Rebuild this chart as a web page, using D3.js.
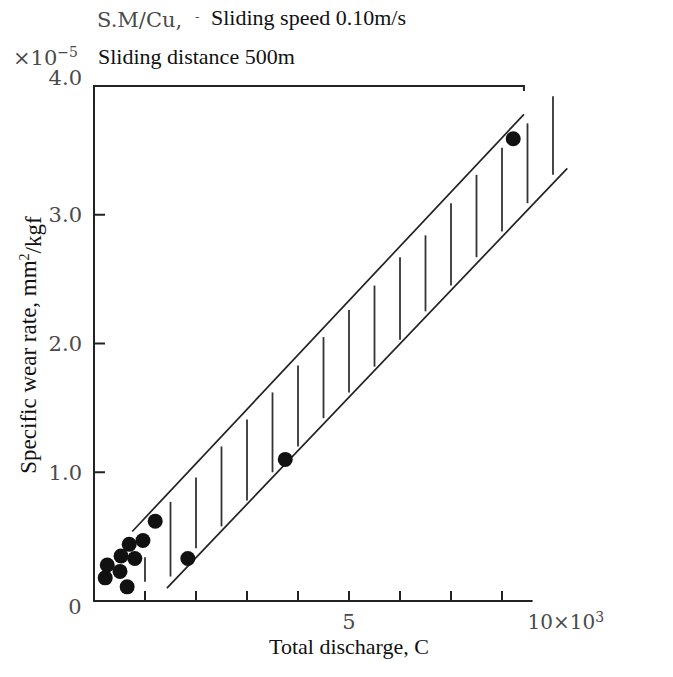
<!DOCTYPE html>
<html>
<head>
<meta charset="utf-8">
<script src="https://cdn.jsdelivr.net/npm/d3@7"></script>
<style>
  body { margin: 0; background: #fff; }
  .lbl { font-family: "Liberation Serif", "Times New Roman", serif; fill: #111; }
  .old { font-family: "DejaVu Serif", serif; fill: #4a4a4a; }
</style>
</head>
<body>
<div id="chart"></div>
<script>
// measured points (x: total discharge 10^3 C, y: wear rate 10^-5 mm2/kgf)
var pointX = [8.22, 3.75, 1.84, 1.20, 0.96, 0.69, 0.53, 0.80, 0.26, 0.22, 0.51, 0.65];
var pointY = [3.59, 1.10, 0.33, 0.62, 0.47, 0.44, 0.35, 0.33, 0.28, 0.18, 0.23, 0.11];

// scatter band edges
var upperX = [0.75, 8.43], upperY = [0.54, 3.78];
var lowerX = [1.43, 9.28], lowerY = [0.10, 3.36];

// vertical hatching inside the band
var hatchX      = [1.0, 1.5, 2.0, 2.5, 3.0, 3.5, 4.0, 4.5, 5.0, 5.5, 6.0, 6.5, 7.0, 7.5, 8.0, 8.5, 9.0];
var hatchTop    = [0.34, 0.77, 0.96, 1.20, 1.41, 1.62, 1.83, 2.05, 2.26, 2.45, 2.67, 2.84, 3.09, 3.31, 3.52, 3.71, 3.92];
var hatchBottom = [0.15, 0.19, 0.41, 0.58, 0.78, 1.00, 1.20, 1.42, 1.62, 1.82, 2.03, 2.25, 2.45, 2.67, 2.87, 3.09, 3.31];

// axes
var xTicks = [1, 2, 3, 4, 5, 6, 7, 8];
var yTicks = [1, 2, 3];
var yTickLabels = [{ v: 4, t: "4.0" }, { v: 3, t: "3.0" }, { v: 2, t: "2.0" }, { v: 1, t: "1.0" }];
var xEnd = 8.6, frameEnd = 8.43;

var W = 673, H = 677;
var x = d3.scaleLinear().domain([0, 10]).range([94, 604]);
var y = d3.scaleLinear().domain([0, 4]).range([601, 86]);

var svg = d3.select("#chart").append("svg")
            .attr("width", W)
            .attr("height", H);

// frame: left, top, bottom
svg.append("path")
   .attr("d", `M${x(frameEnd)},${y(4) + 5} L${x(frameEnd)},${y(4)} L${x(0)},${y(4)} L${x(0)},${y(0)} L${x(xEnd)},${y(0)}`)
   .attr("fill", "none")
   .attr("stroke", "#222")
   .attr("stroke-width", 2);

// inward ticks
svg.selectAll(".xt")
   .data(xTicks)
   .enter().append("line")
   .attr("x1", d => x(d)).attr("x2", d => x(d))
   .attr("y1", y(0)).attr("y2", y(0) - 10)
   .attr("stroke", "#222").attr("stroke-width", 2);

svg.selectAll(".yt")
   .data(yTicks)
   .enter().append("line")
   .attr("x1", x(0)).attr("x2", x(0) + 11)
   .attr("y1", d => y(d)).attr("y2", d => y(d))
   .attr("stroke", "#222").attr("stroke-width", 2);

// tick labels
svg.selectAll(".yl")
   .data(yTickLabels)
   .enter().append("text")
   .attr("class", "old")
   .attr("x", x(0) - 12)
   .attr("y", d => y(d.v) + (d.v === 4 ? -9 : 0))
   .attr("dy", "0.36em")
   .attr("text-anchor", "end")
   .style("font-size", "21px")
   .text(d => d.t);

svg.append("text").attr("class", "old")
   .attr("x", x(0) - 19).attr("y", y(0) + 13).attr("text-anchor", "middle")
   .style("font-size", "21px").text("0");

svg.append("text").attr("class", "old")
   .attr("x", x(5)).attr("y", y(0) + 28).attr("text-anchor", "middle")
   .style("font-size", "21px").text("5");

var tenLbl = svg.append("text").attr("class", "old")
   .attr("x", x(xEnd) - 5).attr("y", y(0) + 28)
   .style("font-size", "20px");
tenLbl.append("tspan").text("10×10");
tenLbl.append("tspan").attr("dy", "-0.5em").style("font-size", "14px").text("3");

// band lines
[[upperX, upperY], [lowerX, lowerY]].forEach(function(b) {
  svg.append("line")
     .attr("x1", x(b[0][0])).attr("y1", y(b[1][0]))
     .attr("x2", x(b[0][1])).attr("y2", y(b[1][1]))
     .attr("stroke", "#222").attr("stroke-width", 1.7);
});

// hatching
svg.selectAll(".hatch")
   .data(hatchX)
   .enter().append("line")
   .attr("class", "hatch")
   .attr("x1", d => x(d)).attr("x2", d => x(d))
   .attr("y1", (d, i) => y(hatchTop[i]))
   .attr("y2", (d, i) => y(hatchBottom[i]))
   .attr("stroke", "#333").attr("stroke-width", 1.8);

// points
svg.selectAll(".pt")
   .data(pointX)
   .enter().append("circle")
   .attr("cx", d => x(d))
   .attr("cy", (d, i) => y(pointY[i]))
   .attr("r", 7.5)
   .attr("fill", "#111");

// header notes
svg.append("text").attr("class", "old")
   .attr("x", 97).attr("y", 27).style("font-size", "21px").text("S.M/Cu,");
svg.append("text").attr("class", "old")
   .attr("x", 195).attr("y", 21).style("font-size", "13px").text("-");
svg.append("text").attr("class", "lbl")
   .attr("x", 211).attr("y", 25).style("font-size", "22px").text("Sliding speed 0.10m/s");

var mult = svg.append("text").attr("class", "old")
   .attr("x", 13).attr("y", 65).style("font-size", "21px");
mult.append("tspan").text("×10");
mult.append("tspan").attr("dy", "-0.55em").style("font-size", "14px").text("−5");
svg.append("text").attr("class", "lbl")
   .attr("x", 98).attr("y", 64).style("font-size", "22px").text("Sliding distance 500m");

// axis titles
var yt = svg.append("text").attr("class", "lbl")
   .attr("transform", "translate(36,345) rotate(-90)")
   .attr("text-anchor", "middle")
   .style("font-size", "23px");
yt.append("tspan").text("Specific wear rate, mm");
yt.append("tspan").attr("dy", "-0.5em").style("font-size", "14px").text("2");
yt.append("tspan").attr("dy", "0.5em").text("/kgf");

svg.append("text").attr("class", "lbl")
   .attr("x", x(5)).attr("y", 654)
   .attr("text-anchor", "middle")
   .style("font-size", "22px")
   .text("Total discharge, C");
</script>
</body>
</html>
